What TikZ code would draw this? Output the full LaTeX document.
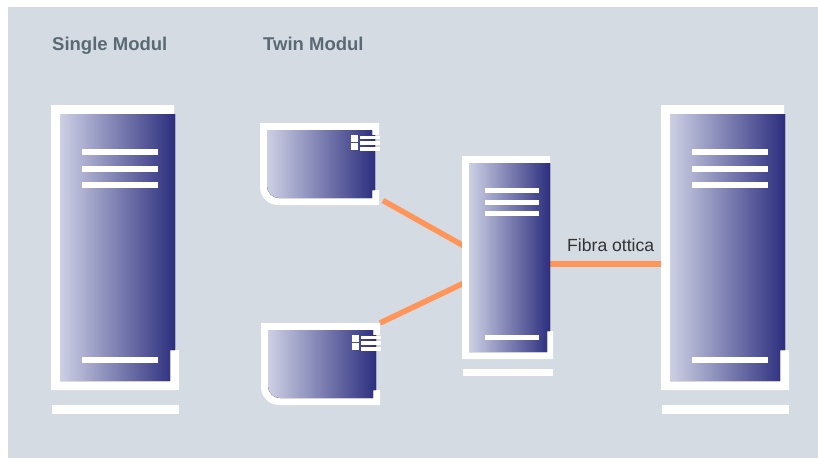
\documentclass[tikz,border=0pt]{standalone}
\usepackage{fontspec}
\setmainfont{Liberation Sans}
\usetikzlibrary{positioning}
\usetikzlibrary{calc}
\definecolor{backgrey}{HTML}{D5DBE2}
\definecolor{paneleft}{HTML}{CDD0E4}
\definecolor{panelright}{HTML}{2C2E7E}
\definecolor{fibreorange}{HTML}{FF9559}
\definecolor{titlegrey}{HTML}{5A6A74}
\tikzstyle{panel}=[rectangle,inner sep=0pt,left color=paneleft,right color=panelright]
\tikzstyle{whitebar}=[rectangle,fill=white,draw=none]
\tikzstyle{fibre} = [draw=fibreorange,line width=5.5pt]
\tikzstyle{title} = [font=\fontsize{18.5}{20}\selectfont\bfseries,text=titlegrey,anchor=base west,inner sep=0pt]

\begin{document}
\begin{tikzpicture}[x=1pt,y=-1pt]

   \useasboundingbox (0,0) rectangle (818,458);
   \fill[backgrey] (8,7) rectangle (818,458);

   \node[title] (singletitle) at (52,50) {Single Modul};
   \node[title] (twintitle) at (263,50) {Twin Modul};

   % connectors go first, the frames sit on top of them
   \coordinate (twinaport) at (383,200.5);
   \coordinate (twinbport) at (380,323);
   \coordinate (midtop) at (464,246);
   \coordinate (midlow) at (464,283);
   \coordinate (midport) at (550,264);
   \coordinate (rackport) at (661,264);
   \path[fibre] (twinaport) -- (midtop);
   \path[fibre] (twinbport) -- (midlow);
   \path[fibre] (midport) -- (rackport);
   \node[font=\fontsize{17.6}{20}\selectfont,text=black!80,anchor=base west,inner sep=0pt] (fibrelabel) at (567,251.5) {Fibra ottica};

   % the two large racks
   \foreach \dx/\name in {0/single, 610/rack} {
      \begin{scope}[shift={(\dx,0)}]
         \fill[whitebar] (51,105) -- (174,105) -- (174,114) -- (60,114) -- (60,381) -- (170,381) -- (170,350) -- (179,350) -- (179,390) -- (51,390) -- cycle;
         \fill[panel] (60,114) -- (175,114) -- (175,350) -- (170,350) -- (170,381) -- (60,381) -- cycle;
         \coordinate (\name) at (60,114);
         \foreach \y in {149,166,182,357}
            \fill[whitebar] (82,\y) rectangle (158,\y+6);
         \fill[whitebar] (52,405) rectangle (179,414);
      \end{scope}
   }

   % the two twin moduls
   \foreach \dx/\dy/\name in {0/0/twina, 1/200/twinb} {
      \begin{scope}[shift={(\dx,\dy)}]
         \fill[whitebar] (260,123) -- (379,123) -- (379,135) -- (372,135) -- (372,130) -- (267,130) -- (267,186) arc[start angle=180,end angle=90,radius=12] -- (372,198) -- (372,190) -- (379,190) -- (379,205) -- (278,205) arc[start angle=90,end angle=180,radius=18] -- cycle;
         \fill[panel] (267,130) -- (372,130) -- (372,135) -- (375,135) -- (375,190) -- (372,190) -- (372,198) -- (279,198) arc[start angle=90,end angle=180,radius=12] -- cycle;
         \coordinate (\name) at (267,130);
         \foreach \y in {135,143}
            \fill[whitebar] (351,\y) rectangle (358,\y+7);
         \foreach \y in {135.5,141,147}
            \fill[whitebar] (360,\y) rectangle (380,\y+3.5);
      \end{scope}
   }

   % the rack in the middle
   \fill[whitebar] (462,156) -- (550,156) -- (550,163) -- (469,163) -- (469,352) -- (547,352) -- (547,331) -- (553,331) -- (553,359) -- (462,359) -- cycle;
   \fill[panel] (469,163) -- (550,163) -- (550,331) -- (547,331) -- (547,352) -- (469,352) -- cycle;
   \foreach \y in {188,199.5,211,335}
      \fill[whitebar] (485,\y) rectangle (539,\y+5);
   \fill[whitebar] (463,369) rectangle (553,376);

\end{tikzpicture}
\end{document}
